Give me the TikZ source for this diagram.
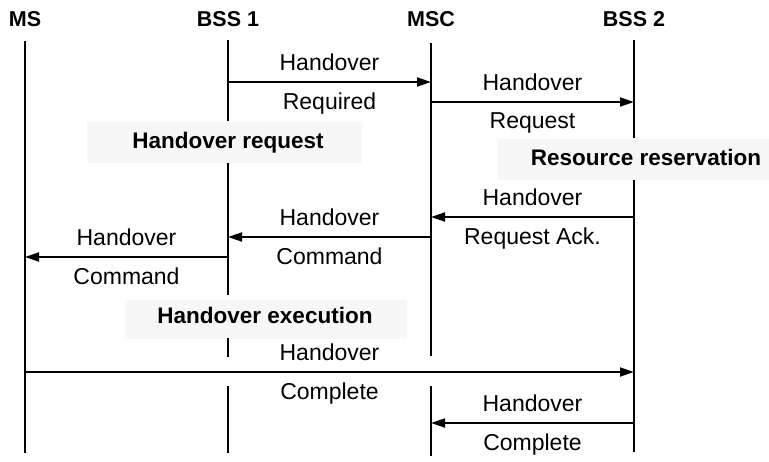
\documentclass[tikz,border=0pt]{standalone}
\usepackage{fontspec}
\setmainfont{Liberation Sans}
\usepackage{xcolor}
\definecolor{phaseBack}{HTML}{F7F7F7}
\usetikzlibrary{arrows.meta, positioning, calc}
\tikzset{
    entity/.style={font=\fontsize{21.5}{24}\selectfont\bfseries, inner sep=0pt, anchor=base},
    phase/.style={font=\fontsize{22.5}{26}\selectfont\bfseries, inner sep=0pt, anchor=base},
    phasebox/.style={fill=phaseBack, draw=none},
    lifeline/.style={-, line width=2.8pt},
    msg/.style={-{Triangle[length=14pt, width=9pt]}, line width=1.8pt},
    msglbl/.style={font=\fontsize{23}{26}\selectfont, inner sep=0pt},
}

\begin{document}
\begin{tikzpicture}[x=1pt, y=-1pt]
    \useasboundingbox (0,0) rectangle (769,461);
    % phase backgrounds
    \fill[phasebox] (87,122) rectangle (362,163);
    \fill[phasebox] (498,139) rectangle (769,180);
    \fill[phasebox] (125,300) rectangle (407,339);
    % entities
    \node[entity] (ms)   at (25,26)  {MS};
    \node[entity] (bss1) at (228,26) {BSS 1};
    \node[entity] (msc)  at (431,26) {MSC};
    \node[entity] (bss2) at (634,26) {BSS 2};
    % lifelines (broken where the phase labels sit)
    \draw[lifeline] (25,41) -- (25,453);
    \draw[lifeline] (228,40) -- (228,121);
    \draw[lifeline] (228,163) -- (228,295);
    \draw[lifeline] (228,338) -- (228,357);
    \draw[lifeline] (228,386) -- (228,453);
    \draw[lifeline] (431,43) -- (431,356);
    \draw[lifeline] (431,386) -- (431,456);
    \draw[lifeline] (634,40) -- (634,138);
    \draw[lifeline] (634,180) -- (634,452);
    % message end points
    \coordinate (bss1-hrq) at (228,82);
    \coordinate (msc-hrq)  at (431,82);
    \coordinate (msc-hrt)  at (431,102);
    \coordinate (bss2-hrt) at (634,102);
    \coordinate (bss2-ack) at (634,217);
    \coordinate (msc-ack)  at (431,217);
    \coordinate (msc-cmd)  at (431,237);
    \coordinate (bss1-cmd) at (228,237);
    \coordinate (bss1-fwd) at (228,257);
    \coordinate (ms-cmd)   at (25,257);
    \coordinate (ms-cpl)   at (25,372);
    \coordinate (bss2-cpl) at (634,372);
    \coordinate (bss2-rel) at (634,423);
    \coordinate (msc-cpl)  at (431,423);
    % messages
    \draw[msg] (bss1-hrq) -- node[msglbl, above=10pt] {Handover}
        node[msglbl, below=10pt] {Required} (msc-hrq);
    \draw[msg] (msc-hrt) -- node[msglbl, above=10pt] {Handover}
        node[msglbl, below=10pt] {Request} (bss2-hrt);
    \draw[msg] (bss2-ack) -- node[msglbl, above=10pt] {Handover}
        node[msglbl, below=10pt] {Request Ack.} (msc-ack);
    \draw[msg] (msc-cmd) -- node[msglbl, above=10pt] {Handover}
        node[msglbl, below=10pt] {Command} (bss1-cmd);
    \draw[msg] (bss1-fwd) -- node[msglbl, above=10pt] {Handover}
        node[msglbl, below=10pt] {Command} (ms-cmd);
    \draw[msg] (ms-cpl) -- node[msglbl, above=10pt] {Handover}
        node[msglbl, below=10pt] {Complete} (bss2-cpl);
    \draw[msg] (bss2-rel) -- node[msglbl, above=10pt] {Handover}
        node[msglbl, below=10pt] {Complete} (msc-cpl);
    % phases
    \node[phase] (hreq)  at (228,148) {Handover request};
    \node[phase] (resv)  at (646,165) {Resource reservation};
    \node[phase] (hexec) at (265,323) {Handover execution};
\end{tikzpicture}
\end{document}
